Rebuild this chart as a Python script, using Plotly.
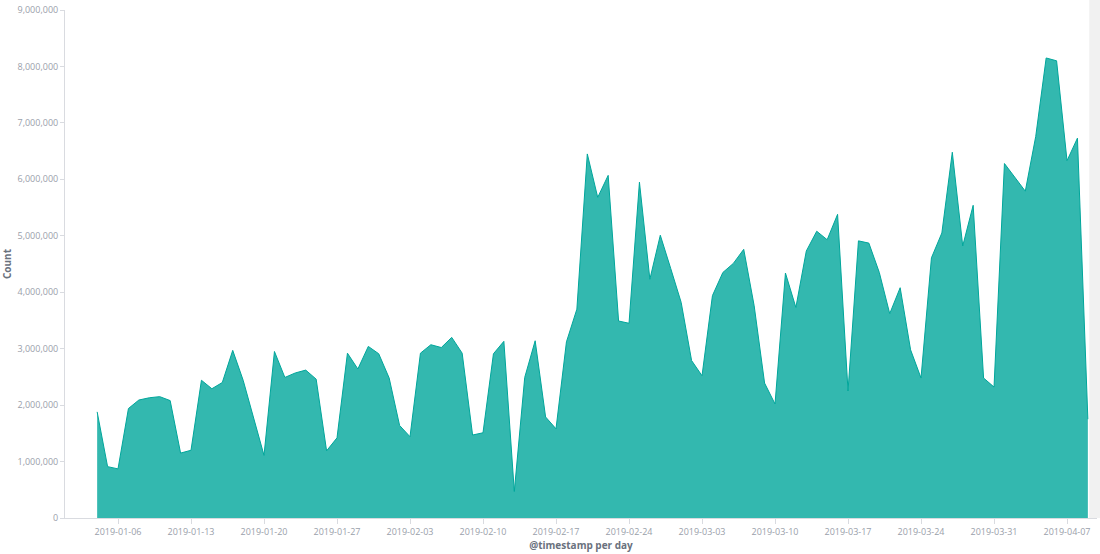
import pandas as pd
import plotly.graph_objects as go

# ---- data ----
start_date = "2019-01-04"
counts = [
    1880000, 910000, 870000, 1940000, 2090000, 2130000, 2150000, 2080000, 1150000, 1200000,
    2440000, 2290000, 2400000, 2970000, 2440000, 1760000, 1110000, 2950000, 2490000, 2570000,
    2620000, 2460000, 1190000, 1420000, 2920000, 2640000, 3040000, 2910000,
    2480000, 1640000, 1440000, 2920000, 3070000, 3020000, 3200000, 2920000, 1470000, 1510000,
    2910000, 3130000, 470000, 2490000, 3140000, 1790000, 1580000, 3120000, 3700000, 6450000,
    5680000, 6070000, 3490000, 3450000, 5950000, 4230000, 5010000, 4420000,
    3820000, 2790000, 2520000, 3940000, 4350000, 4510000, 4760000, 3760000, 2390000, 2020000,
    4340000, 3730000, 4730000, 5080000, 4930000, 5380000, 2250000, 4910000, 4870000, 4350000,
    3620000, 4080000, 2980000, 2480000, 4610000, 5050000, 6480000, 4820000, 5540000, 2480000,
    2320000,
    6280000, 6030000, 5790000, 6760000, 8150000, 8100000, 6330000, 6730000, 1750000,
]
dates = pd.date_range(start=start_date, periods=len(counts), freq="D")

x_tick_labels = ["2019-01-06", "2019-01-13", "2019-01-20", "2019-01-27", "2019-02-03",
                 "2019-02-10", "2019-02-17", "2019-02-24", "2019-03-03", "2019-03-10",
                 "2019-03-17", "2019-03-24", "2019-03-31", "2019-04-07"]
y_tick_values = [0, 1000000, 2000000, 3000000, 4000000, 5000000, 6000000, 7000000, 8000000, 9000000]
y_tick_labels = ["0", "1,000,000", "2,000,000", "3,000,000", "4,000,000", "5,000,000",
                 "6,000,000", "7,000,000", "8,000,000", "9,000,000"]

# ---- figure ----
TICK_COLOR = "#9aa0aa"
TITLE_COLOR = "#6a717d"
AXIS_LINE = "#d9dbe0"
FONT = "Open Sans"

fig = go.Figure()
fig.add_trace(go.Scatter(
    x=dates, y=counts, mode="lines", fill="tozeroy",
    line=dict(color="#00a69b", width=1),
    fillcolor="rgba(0,166,155,0.8)",
    name="Count", showlegend=False,
))

fig.update_layout(
    width=1100, height=554,
    margin=dict(l=65, r=3, t=8, b=36),
    paper_bgcolor="white", plot_bgcolor="white",
    font=dict(family=FONT, size=9, color=TICK_COLOR),
    xaxis=dict(
        range=["2018-12-31 22:00", "2019-04-09 21:00"],
        tickmode="array", tickvals=x_tick_labels, ticktext=x_tick_labels,
        showgrid=False, zeroline=False,
        showline=True, linecolor=AXIS_LINE, linewidth=1,
        ticks="outside", ticklen=5, tickcolor=AXIS_LINE,
        tickfont=dict(family=FONT, size=9, color=TICK_COLOR),
        title=dict(text="@timestamp per day", standoff=4,
                   font=dict(family=FONT, size=10, color=TITLE_COLOR, weight="bold")),
    ),
    yaxis=dict(
        range=[0, 9000000],
        tickmode="array", tickvals=y_tick_values, ticktext=y_tick_labels,
        showgrid=False, zeroline=False,
        showline=True, linecolor=AXIS_LINE, linewidth=1,
        ticks="outside", ticklen=4, tickcolor=AXIS_LINE,
        tickfont=dict(family=FONT, size=9, color=TICK_COLOR),
        title=dict(text="Count", standoff=6,
                   font=dict(family=FONT, size=10, color=TITLE_COLOR, weight="bold")),
    ),
    shapes=[dict(type="rect", xref="paper", yref="paper",
                 x0=0.9925, x1=1.003, y0=0, y1=1.02,
                 fillcolor="#f1f1f1", line=dict(width=0), layer="below")],
)

fig.write_html("out.html", config={"displayModeBar": False},
               post_script="document.body.style.margin='0';")
